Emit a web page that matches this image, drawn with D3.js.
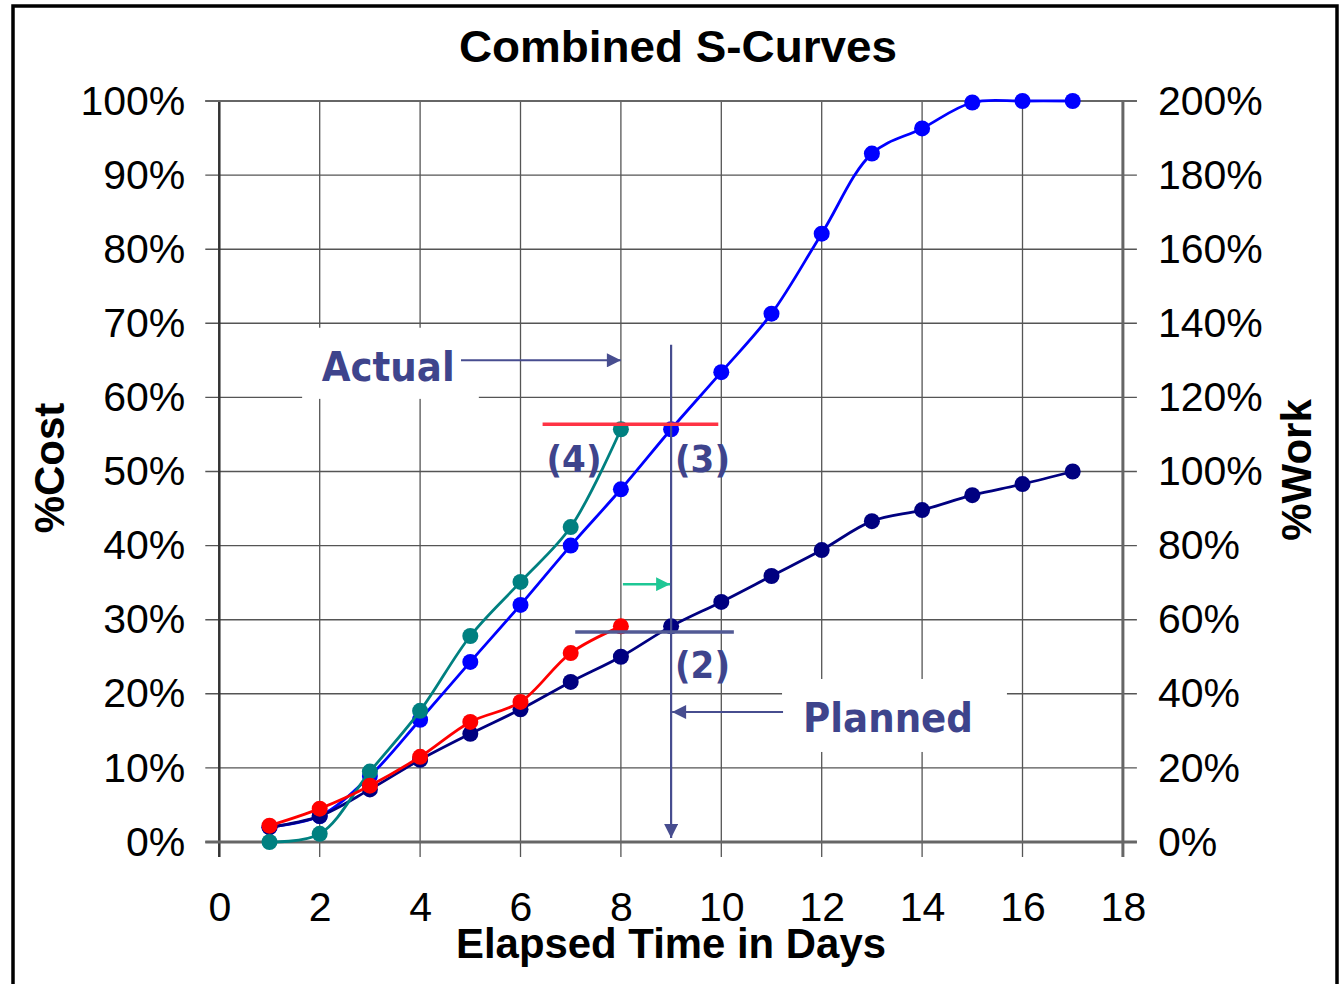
<!DOCTYPE html>
<html>
<head>
<meta charset="utf-8">
<script src="https://cdn.jsdelivr.net/npm/d3@7"></script>
<style>
  html, body { margin: 0; padding: 0; background: #fff; overflow: hidden; }
  svg text { font-family: "Liberation Sans", Arial, sans-serif; }
</style>
</head>
<body>
<svg id="chart" width="1341" height="984"></svg>
<script>
// ---- data ----
const plannedDays = [1, 2, 3, 4, 5, 6, 7, 8, 9, 10, 11, 12, 13, 14, 15, 16, 17];
const actualDays  = [1, 2, 3, 4, 5, 6, 7, 8];

// cost series use the left axis (%Cost)
const plannedCost = [0.020, 0.035, 0.089, 0.165, 0.243, 0.320, 0.400, 0.476, 0.557,
                     0.634, 0.713, 0.821, 0.929, 0.963, 0.998, 1.000, 1.000];
const actualCost  = [0.000, 0.011, 0.095, 0.177, 0.278, 0.351, 0.425, 0.557];

// work series use the right axis (%Work)
const plannedWork = [0.040, 0.070, 0.142, 0.222, 0.292, 0.358, 0.432, 0.500, 0.582,
                     0.648, 0.718, 0.788, 0.866, 0.896, 0.936, 0.966, 1.000];
const actualWork  = [0.044, 0.090, 0.152, 0.230, 0.324, 0.378, 0.510, 0.582];

const xTicks      = [0, 2, 4, 6, 8, 10, 12, 14, 16, 18];
const costTicks   = [0, 0.1, 0.2, 0.3, 0.4, 0.5, 0.6, 0.7, 0.8, 0.9, 1.0];
const workTicks   = [0, 0.2, 0.4, 0.6, 0.8, 1.0, 1.2, 1.4, 1.6, 1.8, 2.0];

// ---- scales ----
const svg = d3.select("#chart");
const x  = d3.scaleLinear().domain([0, 18]).range([219.3, 1122.9]);
const yL = d3.scaleLinear().domain([0, 1]).range([842, 101]);
const yR = d3.scaleLinear().domain([0, 2]).range([842, 101]);

const ink = "#3e448c";

// slide frame
svg.append("rect")
  .attr("x", 13).attr("y", 6).attr("width", 1324).attr("height", 1010)
  .attr("fill", "#fff").attr("stroke", "#000").attr("stroke-width", 3.5);

// ---- grid ----
const grid = svg.append("g");
grid.selectAll("line.h").data(costTicks).join("line")
  .attr("x1", x(0) - 14).attr("x2", x(18) + 14)
  .attr("y1", d => yL(d)).attr("y2", d => yL(d))
  .attr("stroke", "#555").attr("stroke-width", 1.4);
grid.selectAll("line.v").data(xTicks).join("line")
  .attr("x1", d => x(d)).attr("x2", d => x(d))
  .attr("y1", yL(1)).attr("y2", yL(0) + 15)
  .attr("stroke", "#555").attr("stroke-width", 1.3);

// frame lines
grid.append("line").attr("x1", x(0)).attr("x2", x(0)).attr("y1", yL(1)).attr("y2", yL(0) + 15)
  .attr("stroke", "#333").attr("stroke-width", 2.5);
grid.append("line").attr("x1", x(18)).attr("x2", x(18)).attr("y1", yL(1)).attr("y2", yL(0) + 15)
  .attr("stroke", "#666").attr("stroke-width", 3);
grid.append("line").attr("x1", x(0) - 14).attr("x2", x(18) + 14).attr("y1", yL(0)).attr("y2", yL(0))
  .attr("stroke", "#666").attr("stroke-width", 3);
grid.append("line").attr("x1", x(0) - 14).attr("x2", x(18) + 14).attr("y1", yL(1)).attr("y2", yL(1))
  .attr("stroke", "#666").attr("stroke-width", 2);

// white backing boxes behind the two callout words
svg.append("rect")
  .attr("x", x(1.65)).attr("y", yL(0.694))
  .attr("width", x(5.17) - x(1.65)).attr("height", yL(0.598) - yL(0.694))
  .attr("fill", "#fff");
svg.append("rect")
  .attr("x", x(11.21)).attr("y", yL(0.22))
  .attr("width", x(15.69) - x(11.21)).attr("height", yL(0.1215) - yL(0.22))
  .attr("fill", "#fff");

// ---- axes ----
const tickFont = g => g.selectAll("text")
  .style("font-family", "'Liberation Sans', Arial, sans-serif")
  .style("font-size", "41px").attr("fill", "#000");

const leftAxis = svg.append("g").attr("transform", `translate(${x(0)},0)`)
  .call(d3.axisLeft(yL).tickValues(costTicks).tickFormat(d3.format(".0%"))
    .tickSize(0).tickPadding(34));
leftAxis.call(tickFont);
leftAxis.select(".domain").remove();

const rightAxis = svg.append("g").attr("transform", `translate(${x(18)},0)`)
  .call(d3.axisRight(yR).tickValues(workTicks).tickFormat(d3.format(".0%"))
    .tickSize(0).tickPadding(35));
rightAxis.call(tickFont);
rightAxis.select(".domain").remove();

const bottomAxis = svg.append("g").attr("transform", `translate(0,${yL(0)})`)
  .call(d3.axisBottom(x).tickValues(xTicks).tickFormat(d3.format("d"))
    .tickSize(0).tickPadding(50));
bottomAxis.call(tickFont);
bottomAxis.select(".domain").remove();

// ---- titles ----
svg.append("text").attr("x", 678).attr("y", 62).attr("text-anchor", "middle")
  .style("font-size", "44px").style("font-weight", "bold")
  .attr("textLength", 438).attr("lengthAdjust", "spacingAndGlyphs")
  .text("Combined S-Curves");
svg.append("text").attr("x", 671).attr("y", 958).attr("text-anchor", "middle")
  .style("font-size", "42px").style("font-weight", "bold")
  .attr("textLength", 430).attr("lengthAdjust", "spacingAndGlyphs")
  .text("Elapsed Time in Days");
svg.append("text").attr("transform", "translate(64,468) rotate(-90)").attr("text-anchor", "middle")
  .style("font-size", "42px").style("font-weight", "bold").text("%Cost");
svg.append("text").attr("transform", "translate(1311,470) rotate(-90)").attr("text-anchor", "middle")
  .style("font-size", "42px").style("font-weight", "bold").text("%Work");

// ---- series ----
const series = [
  { days: plannedDays, vals: plannedCost, y: yL, color: "#0000ff" },
  { days: plannedDays, vals: plannedWork, y: yR, color: "#000080" },
  { days: actualDays,  vals: actualCost,  y: yL, color: "#008080" },
  { days: actualDays,  vals: actualWork,  y: yR, color: "#ff0000" }
];

series.forEach(s => {
  const pts = s.days.map((d, i) => [x(d), s.y(s.vals[i])]);
  const g = svg.append("g");
  g.append("path")
    .attr("d", d3.line().curve(d3.curveCatmullRom.alpha(0.5))(pts))
    .attr("fill", "none").attr("stroke", s.color).attr("stroke-width", 2.8);
  g.selectAll("circle").data(pts).join("circle")
    .attr("cx", p => p[0]).attr("cy", p => p[1]).attr("r", 8)
    .attr("fill", s.color);
});

// ---- annotations ----
const defs = svg.append("defs");
function marker(id, color) {
  defs.append("marker").attr("id", id)
    .attr("viewBox", "0 0 10 10").attr("refX", 10).attr("refY", 5)
    .attr("markerWidth", 16).attr("markerHeight", 14)
    .attr("markerUnits", "userSpaceOnUse").attr("orient", "auto")
    .append("path").attr("d", "M0,0 L10,5 L0,10 Z").attr("fill", color);
}
marker("arrowInk", "#474d8f");
marker("arrowGreen", "#1ec795");

// status date marker at day 9
svg.append("line")
  .attr("x1", x(9)).attr("x2", x(9)).attr("y1", yL(0.671)).attr("y2", yL(0.0054))
  .attr("stroke", "#474d8f").attr("stroke-width", 2.2).attr("marker-end", "url(#arrowInk)");

// earned value levels
svg.append("line")
  .attr("x1", x(6.44)).attr("x2", x(9.94)).attr("y1", yL(0.5637)).attr("y2", yL(0.5637))
  .attr("stroke", "#ff3344").attr("stroke-width", 3.5);
svg.append("line")
  .attr("x1", x(7.09)).attr("x2", x(10.25)).attr("y1", yL(0.2834)).attr("y2", yL(0.2834))
  .attr("stroke", "#525a95").attr("stroke-width", 3.5);

// pointer arrows
svg.append("line")
  .attr("x1", x(4.815)).attr("x2", x(8.0)).attr("y1", yL(0.650)).attr("y2", yL(0.650))
  .attr("stroke", "#474d8f").attr("stroke-width", 2).attr("marker-end", "url(#arrowInk)");
svg.append("line")
  .attr("x1", x(11.23)).attr("x2", x(9.02)).attr("y1", yL(0.1754)).attr("y2", yL(0.1754))
  .attr("stroke", "#474d8f").attr("stroke-width", 2).attr("marker-end", "url(#arrowInk)");
svg.append("line")
  .attr("x1", x(8.04)).attr("x2", x(8.98)).attr("y1", yL(0.348)).attr("y2", yL(0.348))
  .attr("stroke", "#1ec795").attr("stroke-width", 2.5).attr("marker-end", "url(#arrowGreen)");

// callout text
const callouts = [
  { t: "Actual",  x: 321.7, y: 381, w: 133, fs: 40 },
  { t: "Planned", x: 803,   y: 732, w: 170, fs: 40 },
  { t: "(4)",     x: 546.5, y: 472, w: 55,  fs: 38 },
  { t: "(3)",     x: 675,   y: 472, w: 55,  fs: 38 },
  { t: "(2)",     x: 675,   y: 678, w: 55,  fs: 38 }
];
svg.selectAll("text.callout").data(callouts).join("text")
  .attr("class", "callout")
  .attr("x", d => d.x).attr("y", d => d.y)
  .attr("textLength", d => d.w).attr("lengthAdjust", "spacingAndGlyphs")
  .style("font-family", "'DejaVu Sans', Verdana, sans-serif")
  .style("font-weight", "bold").style("font-size", d => d.fs + "px")
  .attr("fill", ink)
  .text(d => d.t);
</script>
</body>
</html>
